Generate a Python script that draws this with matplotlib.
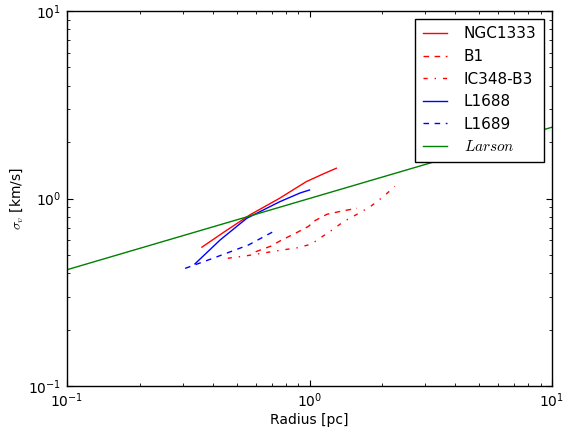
import numpy as np
import matplotlib
matplotlib.use("Agg")
import matplotlib.pyplot as plt

# velocity dispersion vs radius for the clouds
r_ngc1333 = [0.36, 0.45, 0.57, 0.75, 0.97, 1.15, 1.29]
s_ngc1333 = [0.55, 0.67, 0.82, 1.00, 1.23, 1.36, 1.45]

r_b1 = [0.60, 0.69, 0.76, 0.89, 0.99, 1.05, 1.18, 1.36, 1.57]
s_b1 = [0.52, 0.556, 0.596, 0.66, 0.71, 0.76, 0.824, 0.857, 0.887]

r_ic348 = [0.46, 0.54, 0.67, 0.77, 0.90, 1.02, 1.09, 1.24, 1.38, 1.57, 1.78, 1.99, 2.25]
s_ic348 = [0.48, 0.493, 0.516, 0.531, 0.547, 0.572, 0.608, 0.679, 0.752, 0.824, 0.904, 1.01, 1.16]

r_l1688 = [0.337, 0.428, 0.551, 0.625, 0.755, 0.914, 1.0]
s_l1688 = [0.448, 0.601, 0.784, 0.851, 0.962, 1.07, 1.11]

r_l1689 = [0.307, 0.40, 0.56, 0.72]
s_l1689 = [0.424, 0.48, 0.565, 0.673]

# Larson relation (straight line in log-log)
r_larson = [0.1, 10.0]
s_larson = [0.417, 2.40]

plt.rcParams['font.family'] = 'DejaVu Sans'
plt.rcParams['mathtext.fontset'] = 'cm'
plt.rcParams['xtick.direction'] = 'in'
plt.rcParams['ytick.direction'] = 'in'
plt.rcParams['xtick.top'] = True
plt.rcParams['ytick.right'] = True

fig = plt.figure(figsize=(5.71, 4.30), dpi=100)
ax = fig.add_axes([67/571, 44/430, 485/571, 375/430])

ax.plot(r_ngc1333, s_ngc1333, 'r-', lw=1.0, label='NGC1333')
ax.plot(r_b1, s_b1, 'r--', lw=1.0, dashes=(4, 4), label='B1')
ax.plot(r_ic348, s_ic348, 'r-.', lw=1.0, dashes=(3, 5, 1, 5), label='IC348-B3')
ax.plot(r_l1688, s_l1688, 'b-', lw=1.0, label='L1688')
ax.plot(r_l1689, s_l1689, 'b--', lw=1.0, dashes=(4, 4), label='L1689')
ax.plot(r_larson, s_larson, 'g-', lw=1.0, label=r'$Larson$')

ax.set_xscale('log')
ax.set_yscale('log')
ax.set_xlim(0.1, 10)
ax.set_ylim(0.1, 10)

ax.tick_params(which='major', length=4, width=0.8, labelsize=10, pad=4)
ax.tick_params(which='minor', length=2, width=0.6)
for sp in ax.spines.values():
    sp.set_linewidth(1.0)

ax.set_xlabel('Radius [pc]', fontsize=10, labelpad=2)
ax.set_ylabel(r'$\sigma_v$ [km/s]', fontsize=10, labelpad=2)

leg = ax.legend(loc='upper right', fontsize=11, fancybox=False, framealpha=1,
                borderaxespad=0.5, handlelength=1.6, labelspacing=0.5,
                handletextpad=1.1, borderpad=0.5)
leg.get_frame().set_edgecolor('black')
leg.get_frame().set_linewidth(1.0)

fig.savefig('out.png', dpi=100)
